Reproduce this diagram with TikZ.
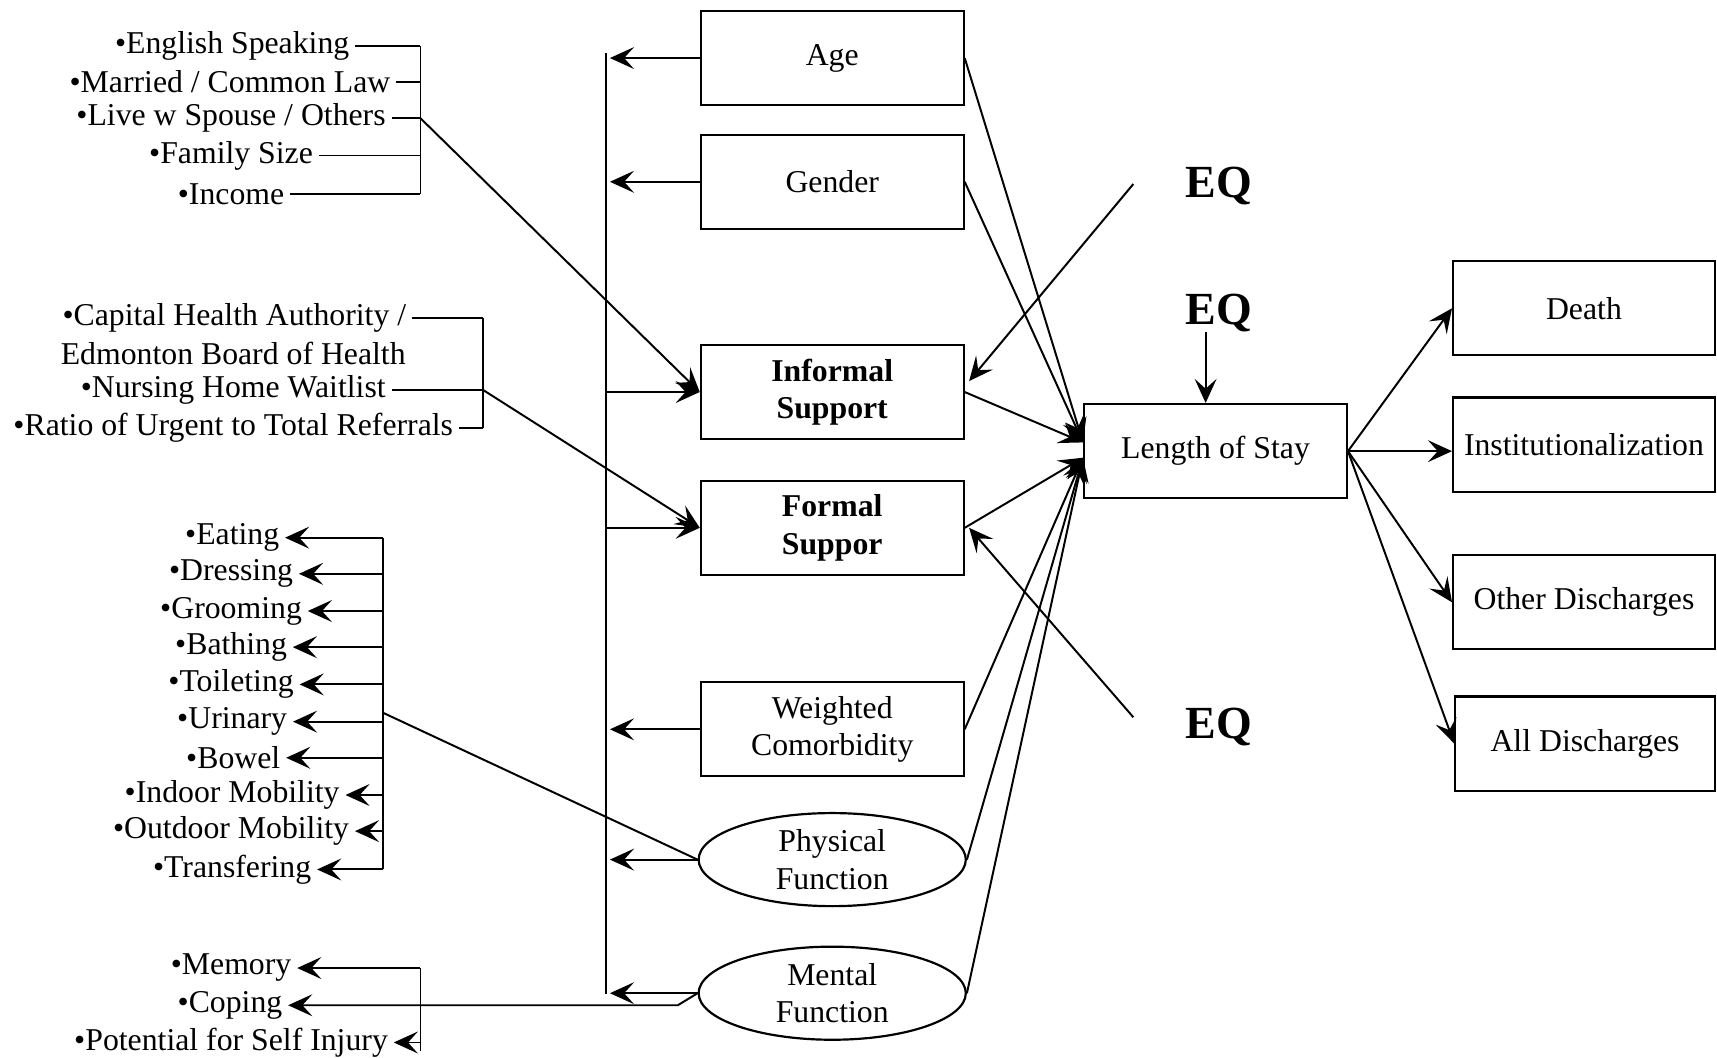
\documentclass[tikz,border=0pt]{standalone}
\usepackage{fontspec}
\setmainfont{Liberation Serif}
\usetikzlibrary{shapes.geometric,arrows.meta,calc}
\begin{document}
\begin{tikzpicture}[x=0.5pt,y=-0.5pt,
  every node/.style={font=\fontsize{14.5}{17}\selectfont},
  box/.style={draw,line width=1pt,minimum width=120pt,minimum height=43pt,align=center,inner sep=1pt},
  oval/.style={draw,ellipse,line width=1pt,minimum width=122pt,minimum height=42.5pt,align=center,inner sep=0pt},
  item/.style={inner sep=2.5pt},
  eqlab/.style={font=\bfseries\fontsize{21}{24}\selectfont},
  ln/.style={line width=0.9pt},
  arr/.style={ln,-{Stealth[length=11pt,width=10pt,inset=4.5pt]}},
]
\useasboundingbox (0,0) rectangle (1568,966);

% ---- central boxes
\node[box] (age) at (760,53) {Age};
\node[box] (gen) at (760,166) {Gender};
\node[box,font=\bfseries\fontsize{14.5}{17}\selectfont] (inf) at (760,358) {Informal\\Support};
\node[box,font=\bfseries\fontsize{14.5}{17}\selectfont] (frm) at (760,482) {Formal\\Suppor};
\node[box] (wc) at (760,666) {Weighted\\Comorbidity};
\node[oval] (phys) at (760,785) {Physical\\Function};
\node[oval] (ment) at (760,907) {Mental\\Function};

\node[box] (los) at (1110,412) {Length of Stay};
\node[box,minimum width=119.5pt] (death) at (1446.5,281.5) {Death};
\node[box,minimum width=119.5pt] (inst) at (1446.5,406) {Institutionalization};
\node[box,minimum width=119.5pt] (oth) at (1446.5,550) {Other Discharges};
\node[box,minimum width=118.5pt] (all) at (1447.5,679) {All Discharges};

% ---- EQ labels
\node[eqlab] (eq1) at (1113,170) {EQ};
\node[eqlab] (eq2) at (1113,286) {EQ};
\node[eqlab] (eq3) at (1113,664) {EQ};
\coordinate (eq1s) at (1035,168);
\coordinate (eq2s) at (1101,303);
\coordinate (eq3s) at (1035,655);

% ---- list 1
\node[item] (l1a) at (212,42) {•English Speaking};
\node[item] (l1b) at (210,75) {•Married / Common Law};
\node[item] (l1c) at (211,108) {•Live w Spouse / Others};
\node[item] (l1d) at (211,142) {•Family Size};
\node[item] (l1e) at (211,177) {•Income};
\coordinate (br1) at (384,0);
\foreach \n in {l1a,l1b,l1c,l1d,l1e}{\draw[ln] (\n.east) -- (\n.east -| br1);}
\draw[ln] (l1a.east -| br1) -- (l1e.east -| br1);
\draw[arr] (l1c.east -| br1) -- (inf.west);

% ---- list 2
\node[item] (l2a) at (214,290) {•Capital Health Authority /};
\node[item] (l2b) at (213,323) {Edmonton Board of Health};
\node[item] (l2c) at (213,356) {•Nursing Home Waitlist};
\node[item] (l2d) at (213,391) {•Ratio of Urgent to Total Referrals};
\coordinate (br2) at (441,0);
\foreach \n in {l2a,l2c,l2d}{\draw[ln] (\n.east) -- (\n.east -| br2);}
\draw[ln] (l2a.east -| br2) -- (l2d.east -| br2);
\draw[arr] (l2c.east -| br2) -- (frm.west);

% ---- list 3 (ADL)
\node[item] (l3a) at (212,491) {•Eating};
\node[item] (l3b) at (211,524) {•Dressing};
\node[item] (l3c) at (211,558) {•Grooming};
\node[item] (l3d) at (211,591) {•Bathing};
\node[item] (l3e) at (211,625) {•Toileting};
\node[item] (l3f) at (212,659) {•Urinary};
\node[item] (l3g) at (213,692) {•Bowel};
\node[item] (l3h) at (212,726) {•Indoor Mobility};
\node[item] (l3i) at (211,759) {•Outdoor Mobility};
\node[item] (l3j) at (212,794) {•Transfering};
\coordinate (br3) at (350,0);
\foreach \n in {l3a,l3b,l3c,l3d,l3e,l3f,l3g,l3h,l3i,l3j}{\draw[arr] (\n.east -| br3) -- (\n.east);}
\draw[ln] (l3a.east -| br3) -- (l3j.east -| br3);
\coordinate (p3) at (350,651);
\draw[ln] (p3) -- (phys.west);

% ---- list 4
\node[item] (l4a) at (211,884) {•Memory};
\node[item] (l4b) at (210,918) {•Coping};
\node[item] (l4c) at (211,952) {•Potential for Self Injury};
\coordinate (br4) at (384,0);
\draw[arr] (l4a.east -| br4) -- (l4a.east);
\draw[ln] (l4a.east -| br4) -- ([yshift=-4pt]l4c.east -| br4);
\draw[arr] (l4c.east -| br4) -- (l4c.east);
\draw[arr] (ment.west) -- ++(-18,11) coordinate (cb) -- (cb -| l4b.east);

% ---- bus
\coordinate (bus) at (553,0);
\coordinate (bustip) at (557,0);
\draw[ln] (553,48) -- (553,908);
\draw[arr] (age.west) -- (age.west -| bustip);
\draw[arr] (gen.west) -- (gen.west -| bustip);
\draw[arr] (inf.west -| bus) -- (inf.west);
\draw[arr] (frm.west -| bus) -- (frm.west);
\draw[arr] (wc.west) -- (wc.west -| bustip);
\draw[arr] (phys.west) -- (phys.west -| bustip);
\draw[arr] (ment.west) -- (ment.west -| bustip);

% ---- into Length of Stay
\coordinate (tA) at ([yshift=4pt]los.west);
\coordinate (tB) at ([yshift=-3pt]los.west);
\draw[arr] (age.east) -- (tA);
\draw[arr] (gen.east) -- (tA);
\draw[arr] (inf.east) -- (tA);
\draw[arr] (frm.east) -- (tB);
\draw[arr] (wc.east) -- (tB);
\draw[arr] (phys.east) -- (tB);
\draw[arr] (ment.east) -- (tB);

% ---- EQ arrows
\draw[arr] (eq1s) -- ([yshift=5pt,xshift=2pt]inf.east);
\draw[arr] (eq2s) -- (eq2s |- los.north);
\draw[arr] (eq3s) -- ([xshift=2pt]frm.east);

% ---- outcomes
\draw[arr] (los.east) -- (death.west);
\draw[arr] (los.east) -- (los.east -| inst.west);
\draw[arr] (los.east) -- (oth.west);
\draw[arr] (los.east) -- (all.west);
\end{tikzpicture}
\end{document}
